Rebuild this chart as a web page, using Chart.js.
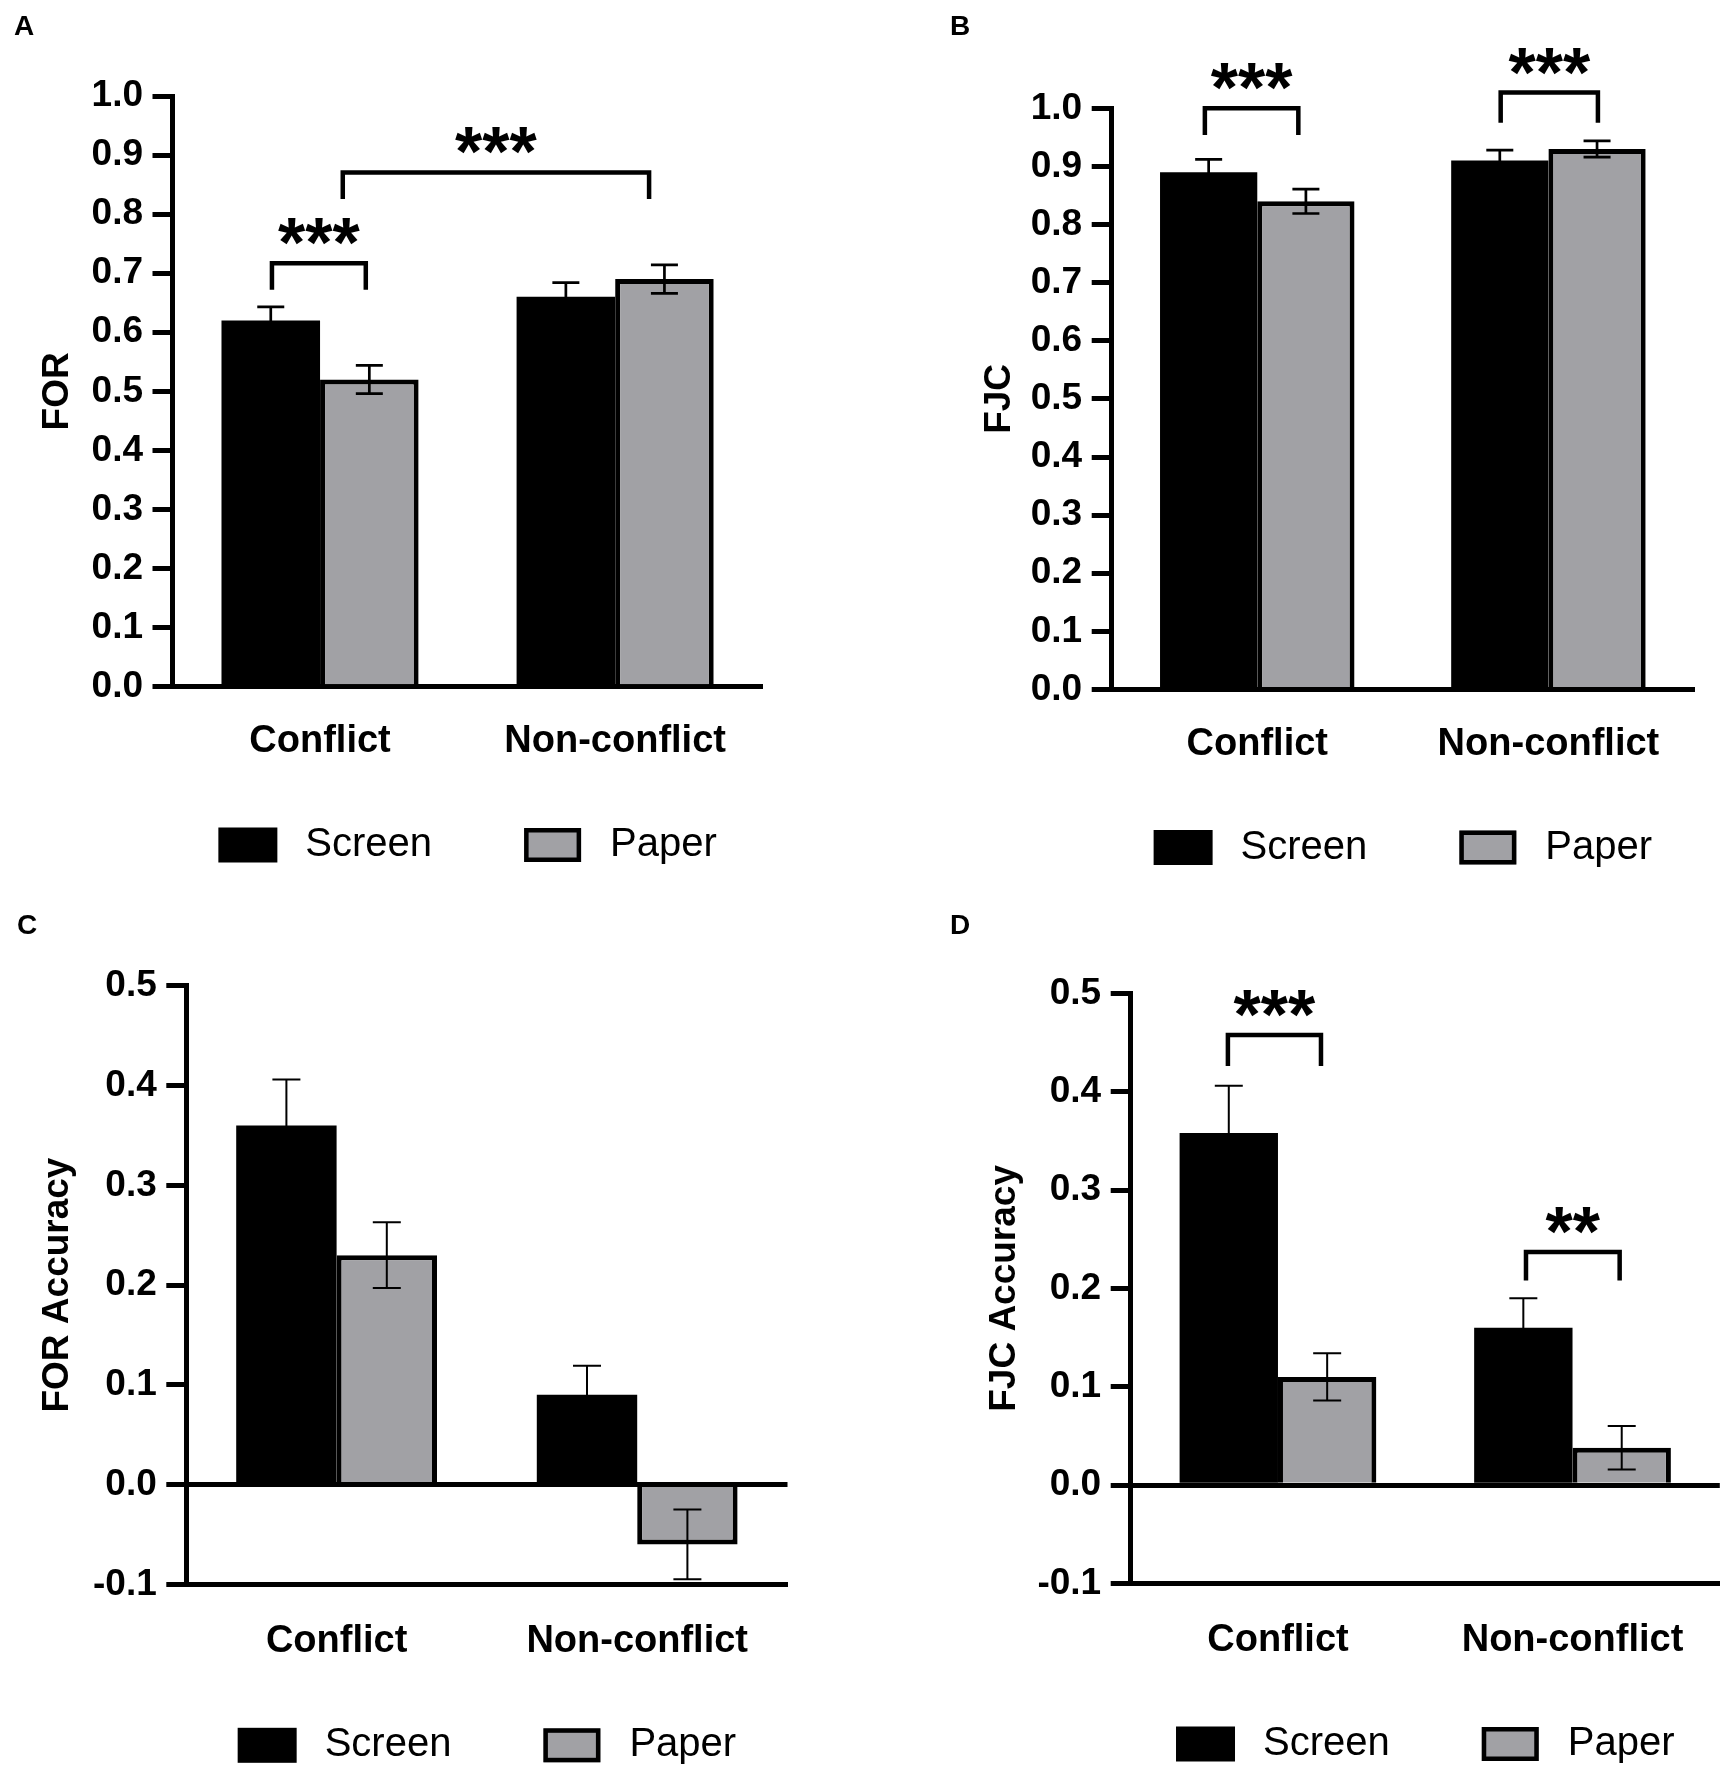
<!DOCTYPE html>
<html>
<head>
<meta charset="utf-8">
<script src="https://cdn.jsdelivr.net/npm/chart.js@4.4.1/dist/chart.umd.min.js"></script>
<style>
  html, body { margin: 0; padding: 0; background: #fff; }
  #page { position: relative; width: 1729px; height: 1775px; overflow: hidden; }
  canvas { position: absolute; }
</style>
</head>
<body>
<div id="page">
  <canvas id="panelA" width="864" height="887" style="left:0px;top:0px"></canvas>
  <canvas id="panelB" width="865" height="887" style="left:864px;top:0px"></canvas>
  <canvas id="panelC" width="864" height="888" style="left:0px;top:887px"></canvas>
  <canvas id="panelD" width="865" height="888" style="left:864px;top:887px"></canvas>
</div>
<script>
const categories = ['Conflict', 'Non-conflict'];
const seriesNames = ['Screen', 'Paper'];

// A: FOR
const forScreen = [0.62, 0.66];
const forPaper = [0.52, 0.69];
const forScreenErr = [0.023, 0.024];
const forPaperErr = [0.024, 0.024];

// B: FJC
const fjcScreen = [0.89, 0.91];
const fjcPaper = [0.84, 0.93];
const fjcScreenErr = [0.022, 0.018];
const fjcPaperErr = [0.021, 0.014];

// C: FOR accuracy
const forAccScreen = [0.36, 0.09];
const forAccPaper = [0.23, -0.06];
const forAccScreenErr = [0.046, 0.029];
const forAccPaperErr = [0.033, 0.035];

// D: FJC accuracy
const fjcAccScreen = [0.358, 0.16];
const fjcAccPaper = [0.11, 0.038];
const fjcAccScreenErr = [0.048, 0.030];
const fjcAccPaperErr = [0.024, 0.022];

// tick labels
const ticksRating = [0, 0.1, 0.2, 0.3, 0.4, 0.5, 0.6, 0.7, 0.8, 0.9, 1.0];
const ticksAccuracy = [-0.1, 0, 0.1, 0.2, 0.3, 0.4, 0.5];

// significance brackets (x in category units, y in data units)
const bracketsFOR = [
  { from: -0.163, to: 0.155, top: 0.717, bottom: 0.672, stars: '***' },
  { from: 0.077, to: 1.115, top: 0.8705, bottom: 0.8256, stars: '***' }
];
const bracketsFJC = [
  { from: -0.18, to: 0.141, top: 1.0, bottom: 0.954, stars: '***' },
  { from: 0.836, to: 1.17, top: 1.027, bottom: 0.975, stars: '***' }
];
const bracketsFORAcc = [];
const bracketsFJCAcc = [
  { from: -0.17, to: 0.146, top: 0.4575, bottom: 0.426, stars: '***' },
  { from: 0.842, to: 1.16, top: 0.237, bottom: 0.208, stars: '**' }
];

const FONT = '"Liberation Sans", Arial, Helvetica, sans-serif';
const GRAY = '#a1a1a5';
Chart.defaults.font.family = FONT;
Chart.defaults.color = '#000';

const annotate = {
  id: 'annotate',
  afterDatasetsDraw(chart, args, o) {
    const ctx = chart.ctx;
    const xs = chart.scales.x, ys = chart.scales.y;
    const area = chart.chartArea;
    ctx.save();
    ctx.strokeStyle = '#000';
    ctx.fillStyle = '#000';

    // error bars
    ctx.lineWidth = o.errWidth;
    chart.data.datasets.forEach((ds, i) => {
      chart.getDatasetMeta(i).data.forEach((bar, j) => {
        const v = ds.data[j], e = ds.errors[j];
        const top = ys.getPixelForValue(v + e);
        const bot = ys.getPixelForValue(v - e);
        ctx.beginPath();
        ctx.moveTo(bar.x, top); ctx.lineTo(bar.x, bot);
        ctx.moveTo(bar.x - o.capHalf, top); ctx.lineTo(bar.x + o.capHalf, top);
        ctx.moveTo(bar.x - o.capHalf, bot); ctx.lineTo(bar.x + o.capHalf, bot);
        ctx.stroke();
      });
    });

    // brackets with stars
    ctx.lineWidth = 4.5;
    ctx.lineJoin = 'miter';
    o.brackets.forEach((b) => {
      const x1 = xs.getPixelForValue(b.from), x2 = xs.getPixelForValue(b.to);
      const yt = ys.getPixelForValue(b.top), yb = ys.getPixelForValue(b.bottom);
      ctx.beginPath();
      ctx.moveTo(x1, yb); ctx.lineTo(x1, yt); ctx.lineTo(x2, yt); ctx.lineTo(x2, yb);
      ctx.stroke();
      const size = 70;
      ctx.font = 'bold ' + size + 'px ' + FONT;
      ctx.textAlign = 'center';
      ctx.textBaseline = 'alphabetic';
      ctx.fillText(b.stars, (x1 + x2) / 2, yt - 34.5 + 0.55 * size);
    });

    // legend
    const ly = area.bottom + o.legendGap;
    ctx.font = '40px ' + FONT;
    ctx.textBaseline = 'middle';
    ctx.textAlign = 'left';
    const ds = chart.data.datasets;
    const w0 = ctx.measureText(ds[0].label).width;
    const w1 = ctx.measureText(ds[1].label).width;
    const total = 59 + 28 + w0 + 92 + 57 + 29 + w1;
    let lx = (area.left + area.right) / 2 - total / 2;
    ctx.fillStyle = ds[0].backgroundColor;
    ctx.fillRect(lx, ly - 17.5, 59, 35);
    ctx.fillStyle = '#000';
    ctx.fillText(ds[0].label, lx + 59 + 28, ly);
    lx += 59 + 28 + w0 + 92;
    ctx.fillStyle = ds[1].backgroundColor;
    ctx.fillRect(lx, ly - 17, 57, 34);
    ctx.lineWidth = 4.5;
    ctx.strokeRect(lx + 2.25, ly - 17 + 2.25, 57 - 4.5, 34 - 4.5);
    ctx.fillStyle = '#000';
    ctx.fillText(ds[1].label, lx + 57 + 29, ly);

    // panel letter
    ctx.font = 'bold 28px ' + FONT;
    ctx.textBaseline = 'alphabetic';
    ctx.fillText(o.letter, o.letterX, o.letterY);
    ctx.restore();
  }
};

function buildPanel(canvasId, p) {
  const canvas = document.getElementById(canvasId);
  const W = canvas.width, H = canvas.height;
  const axisH = 100;
  return new Chart(canvas, {
    type: 'bar',
    data: {
      labels: categories,
      datasets: [
        { label: seriesNames[0], data: p.screen, errors: p.screenErr,
          backgroundColor: '#000', borderWidth: 0 },
        { label: seriesNames[1], data: p.paper, errors: p.paperErr,
          backgroundColor: GRAY, borderColor: '#000', borderWidth: 5, borderSkipped: 'start' }
      ]
    },
    options: {
      responsive: false,
      animation: false,
      events: [],
      datasets: { bar: { categoryPercentage: 0.668, barPercentage: 1 } },
      layout: {
        padding: { left: 0, top: p.top, right: W - p.right, bottom: H - p.bottom - axisH }
      },
      plugins: {
        legend: { display: false },
        tooltip: { enabled: false },
        annotate: {
          brackets: p.brackets, errWidth: p.errWidth, capHalf: p.capHalf,
          letter: p.letter, letterX: p.letterX, letterY: p.letterY, legendGap: p.legendGap
        }
      },
      scales: {
        x: {
          ticks: { font: { size: 38, weight: 'bold' }, color: '#000', padding: p.labelPad },
          grid: { display: false, drawTicks: false },
          border: { display: true, width: 5, color: '#000' },
          afterFit: (s) => { s.height = axisH; }
        },
        y: {
          min: p.ticks[0],
          max: p.ticks[p.ticks.length - 1],
          afterBuildTicks: (s) => { s.ticks = p.ticks.map((v) => ({ value: v })); },
          ticks: {
            font: { size: 37, weight: 'bold' }, color: '#000', padding: 9.5,
            callback: (v) => Number(v).toFixed(1)
          },
          grid: {
            drawOnChartArea: p.zeroLine,
            color: (c) => (c.tick && Math.abs(c.tick.value) < 1e-9) ? '#000' : 'rgba(0,0,0,0)',
            lineWidth: 5,
            tickLength: 20,
            tickWidth: 5,
            tickColor: '#000'
          },
          border: { display: true, width: 5, color: '#000' },
          title: {
            display: true, text: p.title, color: '#000',
            font: { size: 37, weight: 'bold' },
            padding: { top: p.titlePad, bottom: 0 }
          },
          afterFit: (s) => { s.width = p.left; }
        }
      }
    },
    plugins: [annotate]
  });
}

buildPanel('panelA', {
  screen: forScreen, paper: forPaper, screenErr: forScreenErr, paperErr: forPaperErr,
  ticks: ticksRating, brackets: bracketsFOR, title: 'FOR', zeroLine: false,
  left: 172.5, top: 96, right: 762.7, bottom: 686.7, titlePad: 36, labelPad: 32, legendGap: 158.3,
  errWidth: 2.7, capHalf: 13.5, letter: 'A', letterX: 14, letterY: 35
});
buildPanel('panelB', {
  screen: fjcScreen, paper: fjcPaper, screenErr: fjcScreenErr, paperErr: fjcPaperErr,
  ticks: ticksRating, brackets: bracketsFJC, title: 'FJC', zeroLine: false,
  left: 247.7, top: 108.3, right: 830, bottom: 689.5, titlePad: 114, labelPad: 32, legendGap: 158,
  errWidth: 2.7, capHalf: 13.5, letter: 'B', letterX: 86, letterY: 35
});
buildPanel('panelC', {
  screen: forAccScreen, paper: forAccPaper, screenErr: forAccScreenErr, paperErr: forAccPaperErr,
  ticks: ticksAccuracy, brackets: bracketsFORAcc, title: 'FOR Accuracy', zeroLine: true,
  left: 186.3, top: 98.8, right: 787.5, bottom: 697.3, titlePad: 36, labelPad: 34, legendGap: 161,
  errWidth: 2, capHalf: 14, letter: 'C', letterX: 17, letterY: 47
});
buildPanel('panelD', {
  screen: fjcAccScreen, paper: fjcAccPaper, screenErr: fjcAccScreenErr, paperErr: fjcAccPaperErr,
  ticks: ticksAccuracy, brackets: bracketsFJCAcc, title: 'FJC Accuracy', zeroLine: true,
  left: 266.7, top: 106.3, right: 855.8, bottom: 696.5, titlePad: 118.5, labelPad: 34, legendGap: 160.5,
  errWidth: 2, capHalf: 14, letter: 'D', letterX: 86, letterY: 47
});
</script>
</body>
</html>
